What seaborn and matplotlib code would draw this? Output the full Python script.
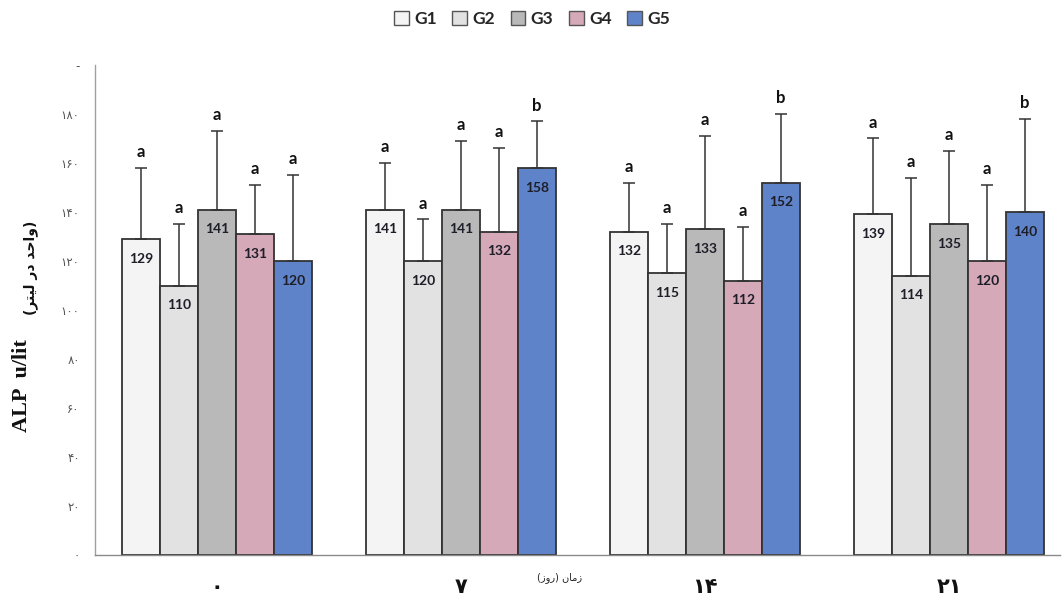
import numpy as np
import pandas as pd
import matplotlib
matplotlib.use("Agg")
import matplotlib.pyplot as plt
from matplotlib.patches import Patch
import seaborn as sns

# Sampling days (Persian digits) and treatment groups
days = ["\u06F0", "\u06F7", "\u06F1\u06F4", "\u06F2\u06F1"]
groups = ["G1", "G2", "G3", "G4", "G5"]

# Mean ALP (u/lit) per group, one value per day
g1_mean = [129, 141, 132, 139]
g2_mean = [110, 120, 115, 114]
g3_mean = [141, 141, 133, 135]
g4_mean = [131, 132, 112, 120]
g5_mean = [120, 158, 152, 140]

# Upper standard deviation per group and day
g1_sd = [29, 19, 20, 31]
g2_sd = [25, 17, 20, 40]
g3_sd = [32, 28, 38, 30]
g4_sd = [20, 34, 22, 31]
g5_sd = [35, 19, 28, 38]

# Significance letters
g1_sig = ["a", "a", "a", "a"]
g2_sig = ["a", "a", "a", "a"]
g3_sig = ["a", "a", "a", "a"]
g4_sig = ["a", "a", "a", "a"]
g5_sig = ["a", "b", "b", "b"]

# Y tick values and their Persian labels
y_ticks = [0, 20, 40, 60, 80, 100, 120, 140, 160, 180, 200]
y_tick_labels = ["\u06F0", "\u06F2\u06F0", "\u06F4\u06F0", "\u06F6\u06F0", "\u06F8\u06F0",
                 "\u06F1\u06F0\u06F0", "\u06F1\u06F2\u06F0", "\u06F1\u06F4\u06F0",
                 "\u06F1\u06F6\u06F0", "\u06F1\u06F8\u06F0", "-"]

means = [g1_mean, g2_mean, g3_mean, g4_mean, g5_mean]
sds = [g1_sd, g2_sd, g3_sd, g4_sd, g5_sd]
sigs = [g1_sig, g2_sig, g3_sig, g4_sig, g5_sig]

colors = ["#f4f4f4", "#e2e2e2", "#b9b9b9", "#d6a9b8", "#5f83c9"]

rows = []
for g, vals in zip(groups, means):
    for d, v in zip(days, vals):
        rows.append({"day": d, "group": g, "value": v})
df = pd.DataFrame(rows)

sns.set_style("white")
plt.rcParams["font.family"] = ["DejaVu Sans"]

fig = plt.figure(figsize=(10.64, 6.04), dpi=100)
ax = fig.add_axes([95 / 1064, 49 / 604, 965 / 1064, 490 / 604])

sns.barplot(data=df, x="day", y="value", hue="group", order=days, hue_order=groups,
            palette=colors, saturation=1, width=0.78, gap=0, edgecolor="#333333",
            linewidth=1.3, errorbar=None, legend=False, ax=ax)

# Error bars, value labels and significance letters on each bar
bar_containers = list(ax.containers)
for gi, cont in enumerate(bar_containers):
    for di, patch in enumerate(cont.patches):
        xc = patch.get_x() + patch.get_width() / 2
        m = means[gi][di]
        s = sds[gi][di]
        ax.errorbar(xc, m, yerr=[[0], [s]], fmt="none", ecolor="#333333",
                    elinewidth=1.1, capsize=4, capthick=1.1, zorder=3)
        ax.text(xc, m - 8, str(m), ha="center", va="center", fontsize=10,
                fontweight="bold", color="#1e1e28", family="Lato", zorder=4)
        ax.text(xc, m + s + 3.2, sigs[gi][di], ha="center", va="bottom",
                fontsize=12, fontweight="bold", color="#111111", family="Lato", zorder=4)

ax.set_xlim(-0.5, 3.455)
ax.set_ylim(0, 200)

for side in ["top", "right"]:
    ax.spines[side].set_visible(False)
ax.spines["left"].set_color("#a0a0a0")
ax.spines["left"].set_linewidth(1.0)
ax.spines["bottom"].set_color("#8a8a8a")
ax.spines["bottom"].set_linewidth(1.0)

ax.set_yticks(y_ticks)
ax.set_yticklabels(y_tick_labels, fontsize=8.5, color="#555555")
ax.tick_params(axis="y", direction="inout", length=10, width=1, color="#a0a0a0", pad=6)

ax.set_xticks(range(len(days)))
ax.set_xticklabels(days, fontsize=15, fontweight="bold", color="#111111")
ax.tick_params(axis="x", which="major", length=0, pad=16)
ax.set_xticks([-0.5, 0.5, 1.5, 2.5], minor=True)
ax.tick_params(axis="x", which="minor", direction="out", length=8, width=1, color="#8a8a8a")

ax.set_xlabel("")
ax.set_ylabel("")

# Axis titles
fig.text(22 / 1064, 1 - 432 / 604, "ALP  u/lit", rotation=90, ha="center", va="bottom",
         fontsize=16, fontweight="bold", family="Liberation Serif", color="#111111")
fig.text(31 / 1064, 1 - 315 / 604,
         "(\uFEAE\uFE98\uFEF4\uFEDF \uFEAD\uFEA9 \uFEAA\uFEA3\uFE8D\uFEED)",
         rotation=90, ha="center", va="bottom", fontsize=10, fontweight="bold", color="#111111")
fig.text(560 / 1064, 1 - 578 / 604, "(\uFEAF\uFEED\uFEAD) \uFEE5\uFE8E\uFEE3\uFEAF",
         ha="center", va="center", fontsize=7, color="#222222")

# Legend across the top
handles = [Patch(facecolor=c, edgecolor="#555555", linewidth=1.0) for c in colors]
leg = fig.legend(handles, groups, loc="center", bbox_to_anchor=(0.5, 1 - 19 / 604), ncol=5,
                 frameon=False, handlelength=0.85, handleheight=0.85, handletextpad=0.3,
                 columnspacing=0.9, prop={"family": "Lato", "weight": "bold", "size": 12.5})

fig.savefig("out.png", dpi=100, facecolor="white")
